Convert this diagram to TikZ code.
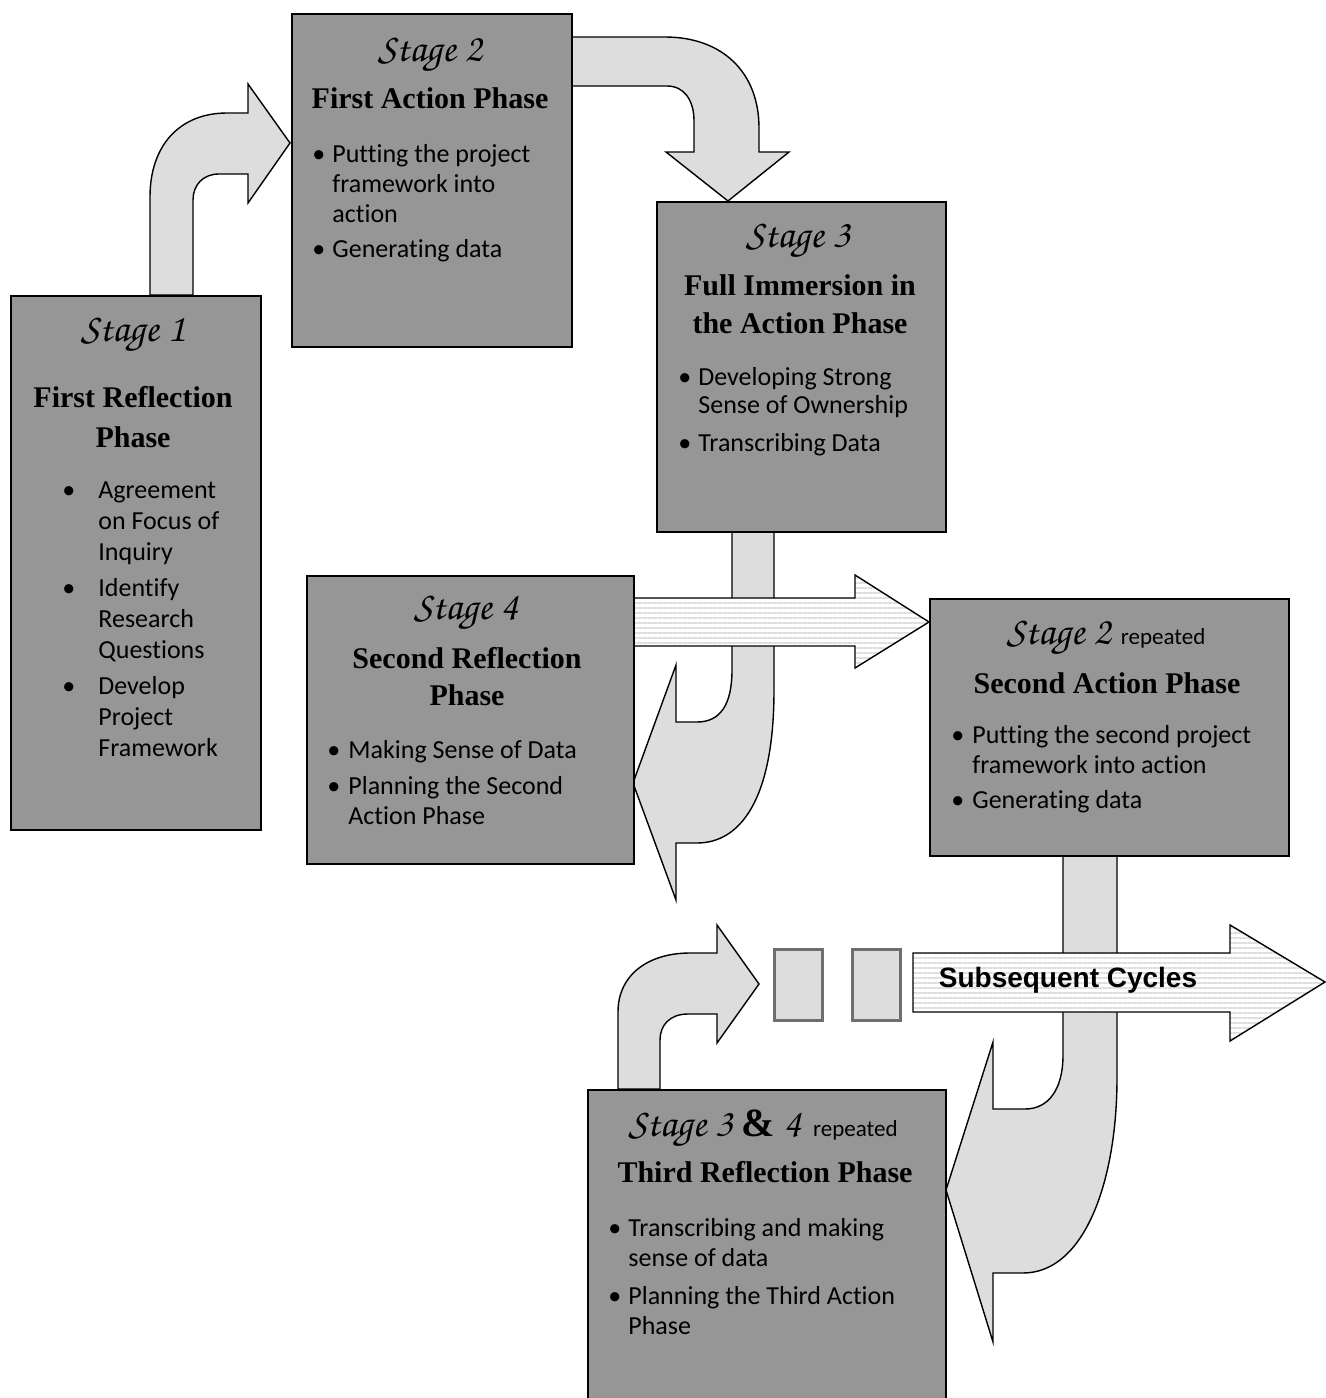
\documentclass[tikz,border=0pt]{standalone}
\usepackage[T1]{fontenc}
\usepackage{fontspec}
\setmainfont{Liberation Serif}
\newfontfamily\bodyfont[Ligatures=NoCommon]{Carlito}
\newfontfamily\labelfont{Liberation Sans}
\newcommand{\stagefont}{\usefont{T1}{pzc}{mb}{it}}
\usetikzlibrary{positioning,patterns.meta}

\definecolor{boxgray}{RGB}{150,150,150}
\definecolor{arrowgray}{RGB}{221,221,221}
\definecolor{stripegray}{RGB}{222,222,222}
\definecolor{rimgray}{RGB}{110,110,110}

\tikzset{
  phasebox/.style={draw=black,fill=boxgray,line width=1pt,anchor=north west,inner sep=0pt},
  gapbox/.style={draw=rimgray,fill=arrowgray,line width=1.5pt,anchor=north west,inner sep=0pt},
  blockarrow/.style={draw=black,fill=arrowgray,line width=0.7pt,line join=miter},
  stripearrow/.style={draw=black,line width=0.7pt,line join=miter,preaction={fill=white},
    pattern={Lines[angle=0,distance=2.5pt,line width=1.2pt]},pattern color=stripegray},
  stagelbl/.style={font=\stagefont\fontsize{20}{24}\selectfont,inner sep=0pt},
  phasehead/.style={font=\bfseries\fontsize{15}{19.5}\selectfont,align=center,inner sep=0pt},
  bullets/.style={font=\bodyfont\fontsize{13}{15}\selectfont,inner sep=0pt,anchor=north west},
}

\begin{document}
\begin{tikzpicture}[x=0.5pt,y=-0.5pt]
  \useasboundingbox (0,0) rectangle (1326,1398);

  % bent arrows
  \draw[blockarrow] (150,295) -- (150,197) .. controls (150,145) and (180,113) .. (227,113)
    -- (248,113) -- (248,84) -- (290,143) -- (248,203) -- (248,174) -- (219,174)
    .. controls (203,174) and (193,185) .. (193,200) -- (193,295) -- cycle;
  \draw[blockarrow] (571,37) -- (665,37) .. controls (722,37) and (759,72) .. (759,128)
    -- (759,152) -- (789,152) -- (728,201) -- (666,152) -- (694,152) -- (694,121)
    .. controls (694,100) and (684,86) .. (667,86) -- (571,86) -- cycle;
  \draw[blockarrow] (732,531) -- (732,670) .. controls (732,705) and (720,722) .. (697,722)
    -- (676,722) -- (676,665) -- (633,783) -- (676,900) -- (676,843) -- (697,843)
    .. controls (740,843) and (774,800) .. (774,690) -- (774,531) -- cycle;
  \draw[blockarrow] (1063,855) -- (1063,1055) .. controls (1063,1090) and (1048,1109) .. (1025,1109)
    -- (993,1109) -- (993,1042) -- (946,1190) -- (993,1342) -- (993,1273) -- (1023,1273)
    .. controls (1085,1273) and (1117,1180) .. (1117,1078) -- (1117,855) -- cycle;
  \draw[blockarrow] (618,1089) -- (618,1012) .. controls (618,975) and (648,953) .. (690,953)
    -- (717,953) -- (717,925) -- (759,984) -- (717,1043) -- (717,1014) -- (688,1014)
    .. controls (670,1014) and (660,1025) .. (660,1040) -- (660,1089) -- cycle;

  % striped arrows
  \draw[stripearrow] (633,598) -- (855,598) -- (855,575) -- (929,622) -- (855,668)
    -- (855,646) -- (633,646) -- cycle;
  \draw[stripearrow] (913,953) -- (1230,953) -- (1230,925) -- (1325,982) -- (1230,1041)
    -- (1230,1012) -- (913,1012) -- cycle;

  % boxes
  \node[phasebox,minimum width=125pt,minimum height=267pt] (s1) at (10,295) {};
  \node[phasebox,minimum width=140pt,minimum height=166.5pt] (s2) at (291,13) {};
  \node[phasebox,minimum width=144.5pt,minimum height=165pt] (s3) at (656,201) {};
  \node[phasebox,minimum width=163.5pt,minimum height=144pt] (s4) at (306,575) {};
  \node[phasebox,minimum width=179.5pt,minimum height=128.5pt] (s2r) at (929,598) {};
  \node[phasebox,minimum width=179pt,minimum height=160pt] (s34r) at (587,1089) {};
  \node[gapbox,minimum width=24pt,minimum height=35.5pt] (g1) at (773,948) {};
  \node[gapbox,minimum width=24pt,minimum height=35.5pt] (g2) at (851,948) {};

  % stage 1
  \node[stagelbl] (s1t) at (133,335) {Stage 1};
  \node[phasehead,font=\bfseries\fontsize{15}{20}\selectfont] (s1h) at (133,417) {First Reflection\\Phase};
  \node[bullets,font=\bodyfont\fontsize{13}{15.5}\selectfont] (s1b) at (62,476) {%
    \begin{tabular}{@{}p{18pt}@{}l@{}}
      \textbullet & Agreement\\ & on Focus of\\ & Inquiry\\[2.5pt]
      \textbullet & Identify\\ & Research\\ & Questions\\[2.5pt]
      \textbullet & Develop\\ & Project\\ & Framework
    \end{tabular}};

  % stage 2
  \node[stagelbl] (s2t) at (430,55) {Stage 2};
  \node[phasehead] (s2h) at (430,98) {First Action Phase};
  \node[bullets] (s2b) at (312,141) {%
    \begin{tabular}{@{}p{10pt}@{}l@{}}
      \textbullet & Putting the project\\ & framework into\\ & action\\[2.5pt]
      \textbullet & Generating data
    \end{tabular}};

  % stage 3
  \node[stagelbl] (s3t) at (798,241) {Stage 3};
  \node[phasehead,font=\bfseries\fontsize{15}{19}\selectfont] (s3h) at (800,304) {Full Immersion in\\the Action Phase};
  \node[bullets,font=\bodyfont\fontsize{13}{14}\selectfont] (s3b) at (678,365) {%
    \begin{tabular}{@{}p{10pt}@{}l@{}}
      \textbullet & Developing Strong\\ & Sense of Ownership\\[5pt]
      \textbullet & Transcribing Data
    \end{tabular}};

  % stage 4
  \node[stagelbl] (s4t) at (466,613) {Stage 4};
  \node[phasehead,font=\bfseries\fontsize{15}{18.5}\selectfont] (s4h) at (467,677) {Second Reflection\\Phase};
  \node[bullets] (s4b) at (327,737) {%
    \begin{tabular}{@{}p{10.5pt}@{}l@{}}
      \textbullet & Making Sense of Data\\[3pt]
      \textbullet & Planning the Second\\ & Action Phase
    \end{tabular}};

  % stage 2 repeated
  \node[stagelbl] (s2rt) at (1106,638) {Stage 2\hspace{5pt}{\bodyfont\fontsize{11.5}{14}\selectfont repeated}};
  \node[phasehead] (s2rh) at (1107,683) {Second Action Phase};
  \node[bullets] (s2rb) at (951,722) {%
    \begin{tabular}{@{}p{10.5pt}@{}l@{}}
      \textbullet & Putting the second project\\ & framework into action\\[2.5pt]
      \textbullet & Generating data
    \end{tabular}};

  % stage 3 & 4 repeated
  \node[stagelbl] (s34rt) at (763,1129) {Stage 3 {\normalfont\bfseries\&} 4\hspace{6pt}{\bodyfont\fontsize{11.5}{14}\selectfont repeated}};
  \node[phasehead] (s34rh) at (765,1172) {Third Reflection Phase};
  \node[bullets] (s34rb) at (608,1215) {%
    \begin{tabular}{@{}p{10pt}@{}l@{}}
      \textbullet & Transcribing and making\\ & sense of data\\[4pt]
      \textbullet & Planning the Third Action\\ & Phase
    \end{tabular}};

  \node[font=\labelfont\bfseries\fontsize{14}{16}\selectfont,inner sep=0pt] (sc) at (1068,980) {Subsequent Cycles};
\end{tikzpicture}
\end{document}
